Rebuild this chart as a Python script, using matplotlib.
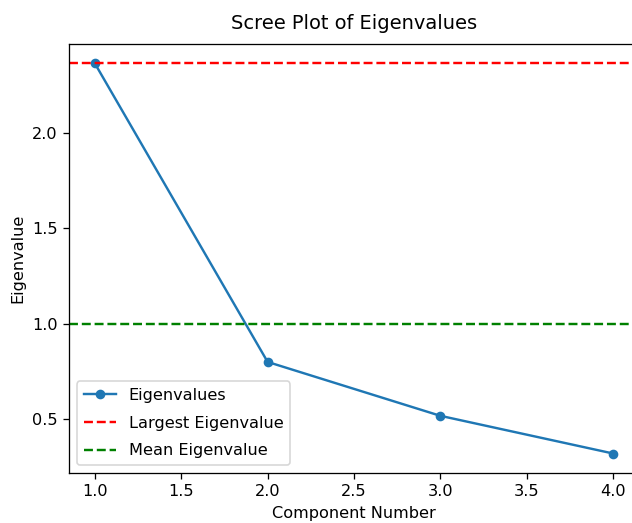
import numpy as np
import matplotlib
matplotlib.use('Agg')
import matplotlib.pyplot as plt

components = [1, 2, 3, 4]
eigenvalues = [2.366, 0.798, 0.515, 0.317]

largest = max(eigenvalues)
mean_ev = np.mean(eigenvalues)

dpi = 116
fig = plt.figure(figsize=(632 / dpi, 523 / dpi), dpi=dpi)
ax = fig.add_axes([69 / 632, 1 - 473 / 523, 570 / 632, 429 / 523])

ax.plot(components, eigenvalues, marker='o', markersize=5, label='Eigenvalues')
ax.axhline(y=largest, color='r', linestyle='--', label='Largest Eigenvalue')
ax.axhline(y=mean_ev, color='g', linestyle='--', label='Mean Eigenvalue')

ax.set_xlabel('Component Number')
ax.set_ylabel('Eigenvalue')
ax.set_title('Scree Plot of Eigenvalues', pad=9)
ax.legend(loc='lower left', labelspacing=0.8)

fig.savefig('out.png', dpi=dpi)
